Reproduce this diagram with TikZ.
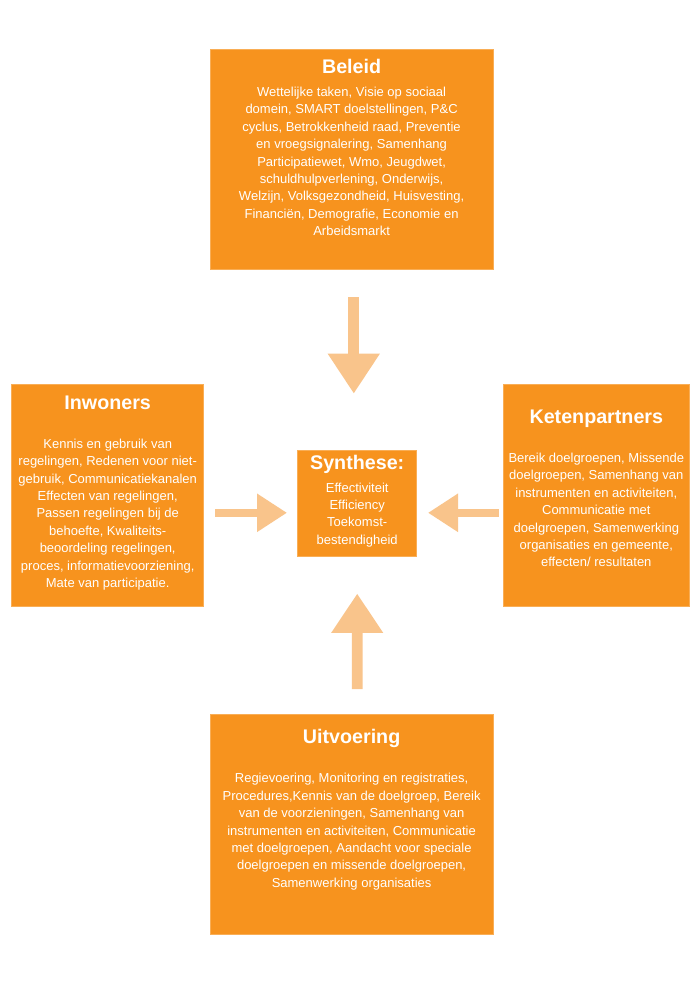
\documentclass[tikz,border=0pt]{standalone}
\usepackage{fontspec}
\setmainfont{Liberation Sans}
\usetikzlibrary{arrows.meta,calc,positioning}
\definecolor{oranje}{HTML}{F7931E}
\definecolor{lichtoranje}{HTML}{F9C48B}
\tikzset{vak/.style={fill=oranje,draw=oranje!75!white,line width=0.6pt,inner sep=0pt},
kop/.style={anchor=base,text=white,inner sep=0pt,font=\fontsize{19.7}{22}\selectfont\bfseries},
tekst/.style={anchor=base,text=white,inner sep=0pt,align=center,font=\fontsize{13}{17.4}\selectfont},
pijl/.style={draw=lichtoranje,line width=#1}}

\begin{document}
\begin{tikzpicture}[x=1pt,y=-1pt]
                    \useasboundingbox[fill=white] (0,0) rectangle (700,990);
                    \node[vak,minimum width=283.3pt,minimum height=220.3pt] (beleid) at (351.6,159.2) {};
                    \node[vak,minimum width=192pt,minimum height=222.4pt] (inwoners) at (107.7,495.5) {};
                    \node[vak,minimum width=186pt,minimum height=222.4pt] (ketenpartners) at (596.3,495.5) {};
                    \node[vak,minimum width=119pt,minimum height=106.7pt] (synthese) at (357.2,503.3) {};
                    \node[vak,minimum width=283.3pt,minimum height=219.7pt] (uitvoering) at (351.6,824.2) {};

                    \node[kop] (beleidkop) at ($(beleid.north)+(0,25)$) {Beleid};
                    \node[tekst] (beleidtekst) at ($(beleid.north)+(0,186.9)$) {Wettelijke taken, Visie op sociaal\\
                        domein, SMART doelstellingen, P\&C\\
                        cyclus, Betrokkenheid raad, Preventie\\
                        en vroegsignalering, Samenhang\\
                        Participatiewet, Wmo, Jeugdwet,\\
                        schuldhulpverlening, Onderwijs,\\
                        Welzijn, Volksgezondheid, Huisvesting,\\
                        Financiën, Demografie, Economie en\\
                        Arbeidsmarkt};
                    \node[kop] (inwonerskop) at ($(inwoners.north)+(0,25)$) {Inwoners};
                    \node[tekst] (inwonerstekst) at ($(inwoners.north)+(0,203.4)$) {Kennis en gebruik van\\
                        regelingen, Redenen voor niet-\\
                        gebruik, Communicatiekanalen\\
                        Effecten van regelingen,\\
                        Passen regelingen bij de\\
                        behoefte, Kwaliteits-\\
                        beoordeling regelingen,\\
                        proces, informatievoorziening,\\
                        Mate van participatie.};
                    \node[kop] (ketenpartnerskop) at ($(ketenpartners.north)+(0,39)$) {Ketenpartners};
                    \node[tekst] (ketenpartnerstekst) at ($(ketenpartners.north)+(0,182.9)$) {Bereik doelgroepen, Missende\\
                        doelgroepen, Samenhang van\\
                        instrumenten en activiteiten,\\
                        Communicatie met\\
                        doelgroepen, Samenwerking\\
                        organisaties en gemeente,\\
                        effecten/ resultaten};
                    \node[kop] (synthesekop) at ($(synthese.north)+(0,20)$) {Synthese:};
                    \node[tekst] (synthesetekst) at ($(synthese.north)+(0,94.6)$) {Effectiviteit\\
                        Efficiency\\
                        Toekomst-\\
                        bestendigheid};
                    \node[kop] (uitvoeringkop) at ($(uitvoering.north)+(0,29)$) {Uitvoering};
                    \node[tekst] (uitvoeringtekst) at ($(uitvoering.north)+(0,173.2)$) {Regievoering, Monitoring en registraties,\\
                        Procedures,Kennis van de doelgroep, Bereik\\
                        van de voorzieningen, Samenhang van\\
                        instrumenten en activiteiten, Communicatie\\
                        met doelgroepen, Aandacht voor speciale\\
                        doelgroepen en missende doelgroepen,\\
                        Samenwerking organisaties};

                    \draw[pijl=11pt,-{Triangle[length=40pt,width=49.3pt]}] ($(beleid.south)+(2.2,27.4)$) -- ($(synthese.north)+(-3.4,-56)$);
                    \draw[pijl=10.6pt,-{Triangle[length=39.4pt,width=49.3pt]}] ($(uitvoering.north)+(5.6,-25)$) -- ($(synthese.south)+(0,36.6)$);
                    \draw[pijl=7.7pt,-{Triangle[length=30pt,width=36.4pt]}] ($(inwoners.east)+(11.3,17.3)$) -- ($(synthese.west)+(-10.4,9.5)$);
                    \draw[pijl=7.7pt,-{Triangle[length=30pt,width=36.4pt]}] ($(ketenpartners.west)+(-4.3,17.3)$) -- ($(synthese.east)+(11,9.5)$);
                \end{tikzpicture}
\end{document}
